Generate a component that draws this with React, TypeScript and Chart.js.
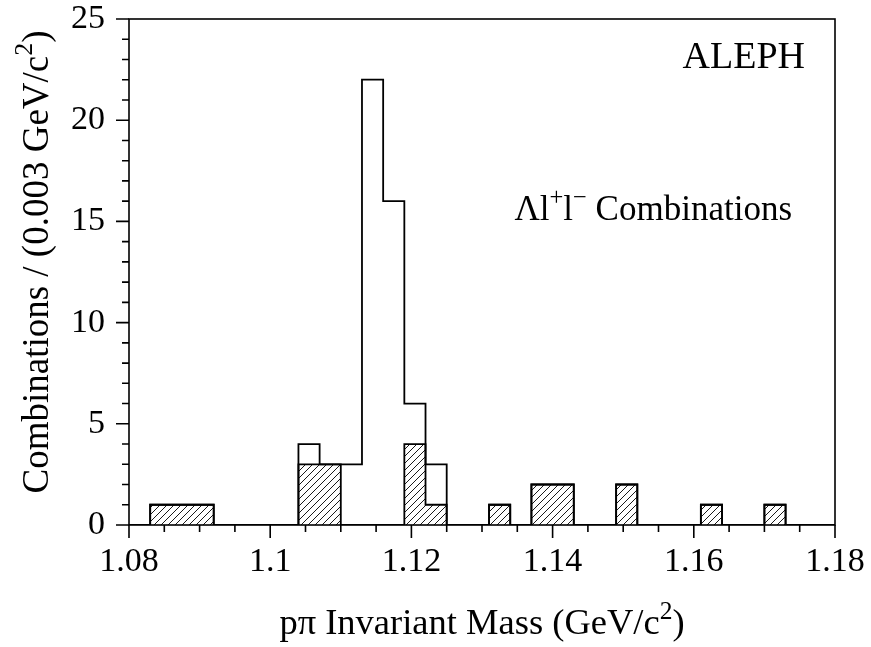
import React, { useEffect, useRef } from "react";
import { Chart, registerables } from "chart.js";

Chart.register(...registerables);

// Histogram binning (GeV/c^2)
const binStart = 1.083;
const binWidth = 0.003;
// All Λl+l- combinations (open histogram), one count per bin
const allCounts = [1, 1, 1, 0, 0, 0, 0, 4, 3, 3, 22, 16, 6, 3, 0, 0, 1, 0, 2, 2, 0, 0, 2, 0, 0, 0, 1, 0, 0, 1, 0, 0];
// Hatched subset
const hatchedCounts = [1, 1, 1, 0, 0, 0, 0, 3, 3, 0, 0, 0, 4, 1, 0, 0, 1, 0, 2, 2, 0, 0, 2, 0, 0, 0, 1, 0, 0, 1, 0, 0];

// Axes
const xMin = 1.08;
const xMax = 1.18;
const xMajorStep = 0.02;
const xMinorPerMajor = 4;
const yMin = 0;
const yMax = 25;
const yMajorStep = 5;
const yMinorPerMajor = 5;

const xTitle = [
  { t: "p\u03c0 Invariant Mass (GeV/c" },
  { t: "2", sup: true },
  { t: ")" },
];
const yTitle = [
  { t: "Combinations / (0.003 GeV/c" },
  { t: "2", sup: true },
  { t: ")" },
];
const labelTop = [{ t: "ALEPH" }];
const labelMid = [
  { t: "\u039bl" },
  { t: "+", sup: true },
  { t: "l" },
  { t: "\u2212", sup: true },
  { t: " Combinations" },
];

const FONT = "'Liberation Serif', 'Times New Roman', serif";

function toSteps(counts: number[]) {
  const pts: { x: number; y: number }[] = [{ x: xMin, y: 0 }];
  counts.forEach((c, i) => pts.push({ x: binStart + i * binWidth, y: c }));
  pts.push({ x: binStart + counts.length * binWidth, y: 0 });
  pts.push({ x: xMax, y: 0 });
  return pts;
}

function makeHatch() {
  const s = 7;
  const c = document.createElement("canvas");
  c.width = s;
  c.height = s;
  const g = c.getContext("2d")!;
  g.strokeStyle = "#000";
  g.lineWidth = 0.9;
  g.beginPath();
  g.moveTo(-1, s + 1);
  g.lineTo(s + 1, -1);
  g.moveTo(-1, 1);
  g.lineTo(1, -1);
  g.moveTo(s - 1, s + 1);
  g.lineTo(s + 1, s - 1);
  g.stroke();
  return g.createPattern(c, "repeat")!;
}

type Part = { t: string; sup?: boolean };

function richWidth(ctx: CanvasRenderingContext2D, parts: Part[], size: number) {
  let w = 0;
  for (const p of parts) {
    ctx.font = `${p.sup ? size * 0.7 : size}px ${FONT}`;
    w += ctx.measureText(p.t).width;
  }
  return w;
}

function drawRich(
  ctx: CanvasRenderingContext2D,
  parts: Part[],
  x: number,
  y: number,
  size: number,
  align: "left" | "center" | "right"
) {
  const w = richWidth(ctx, parts, size);
  let cx = align === "left" ? x : align === "center" ? x - w / 2 : x - w;
  ctx.textAlign = "left";
  ctx.textBaseline = "alphabetic";
  ctx.fillStyle = "#000";
  for (const p of parts) {
    const fs = p.sup ? size * 0.7 : size;
    ctx.font = `${fs}px ${FONT}`;
    ctx.fillText(p.t, cx, p.sup ? y - size * 0.42 : y);
    cx += ctx.measureText(p.t).width;
  }
}

const framePlugin = {
  id: "framePlugin",
  afterDraw(chart: any) {
    const { ctx, chartArea } = chart;
    const xs = chart.scales.x;
    const ys = chart.scales.y;
    const { left, right, top, bottom } = chartArea;
    ctx.save();
    ctx.strokeStyle = "#000";
    ctx.lineWidth = 1.6;
    ctx.strokeRect(left, top, right - left, bottom - top);

    // x ticks
    const nx = Math.round((xMax - xMin) / xMajorStep) * xMinorPerMajor;
    ctx.beginPath();
    for (let i = 0; i <= nx; i++) {
      const v = xMin + (i * xMajorStep) / xMinorPerMajor;
      const px = xs.getPixelForValue(v);
      const len = i % xMinorPerMajor === 0 ? 13 : 7;
      ctx.moveTo(px, bottom);
      ctx.lineTo(px, bottom + len);
    }
    // y ticks
    const ny = Math.round((yMax - yMin) / yMajorStep) * yMinorPerMajor;
    for (let i = 0; i <= ny; i++) {
      const v = yMin + (i * yMajorStep) / yMinorPerMajor;
      const py = ys.getPixelForValue(v);
      const len = i % yMinorPerMajor === 0 ? 13 : 7;
      ctx.moveTo(left, py);
      ctx.lineTo(left - len, py);
    }
    ctx.stroke();

    // texts
    drawRich(ctx, labelTop, right - 30, top + 49, 38, "right");
    drawRich(ctx, labelMid, right - 43, top + 201, 35, "right");
    drawRich(ctx, xTitle, (left + right) / 2, 634, 36.5, "center");

    ctx.save();
    ctx.translate(48, (top + bottom) / 2 - 10);
    ctx.rotate(-Math.PI / 2);
    drawRich(ctx, yTitle, 0, 0, 37, "center");
    ctx.restore();

    ctx.restore();
  },
};

export default function App() {
  const ref = useRef<HTMLCanvasElement>(null);
  useEffect(() => {
    document.body.style.margin = "0";
    const canvas = ref.current!;
    const hatch = makeHatch();
    const chart = new Chart(canvas, {
      type: "line",
      data: {
        datasets: [
          {
            data: toSteps(hatchedCounts),
            stepped: "before",
            borderColor: "#000",
            borderWidth: 1.8,
            backgroundColor: hatch,
            fill: "origin",
            pointRadius: 0,
            order: 2,
          },
          {
            data: toSteps(allCounts),
            stepped: "before",
            borderColor: "#000",
            borderWidth: 1.8,
            fill: false,
            pointRadius: 0,
            order: 1,
          },
        ],
      } as any,
      options: {
        animation: false,
        responsive: false,
        devicePixelRatio: 1,
        layout: { padding: { top: 19, right: 36, left: 0, bottom: 0 } },
        plugins: {
          legend: { display: false },
          tooltip: { enabled: false },
        },
        scales: {
          x: {
            type: "linear",
            min: xMin,
            max: xMax,
            grid: { display: false, drawTicks: false },
            border: { display: false },
            ticks: {
              stepSize: xMajorStep,
              color: "#000",
              padding: 17,
              maxRotation: 0,
              autoSkip: false,
              font: { family: FONT, size: 34 },
              callback: (v: any) => String(Number(Number(v).toFixed(3))),
            },
            afterFit: (s: any) => {
              s.height = 122;
              s.paddingLeft = 0;
              s.paddingRight = 0;
            },
          },
          y: {
            type: "linear",
            min: yMin,
            max: yMax,
            grid: { display: false, drawTicks: false },
            border: { display: false },
            ticks: {
              stepSize: yMajorStep,
              color: "#000",
              padding: 24,
              font: { family: FONT, size: 34 },
            },
            afterFit: (s: any) => {
              s.width = 129;
              s.paddingTop = 0;
              s.paddingBottom = 0;
            },
          },
        },
      },
      plugins: [framePlugin],
    });
    return () => chart.destroy();
  }, []);
  return (
    <div style={{ width: 871, height: 647 }}>
      <canvas ref={ref} width={871} height={647} style={{ display: "block" }} />
    </div>
  );
}
